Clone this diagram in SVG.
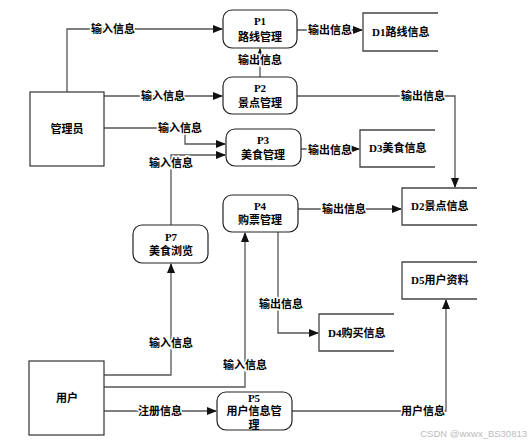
<svg xmlns="http://www.w3.org/2000/svg" width="531" height="444" viewBox="0 0 531 444">
<style>
text{font-family:"Liberation Serif","Noto Sans CJK SC",serif;font-size:11px;font-weight:bold;fill:#000;text-anchor:middle;dominant-baseline:central}
.proc{fill:#fff;stroke:#222;stroke-width:1.2}
.ent{fill:#fff;stroke:#333;stroke-width:1.2}
.store{fill:none;stroke:#444;stroke-width:1.3}
.c{fill:none;stroke:#555;stroke-width:1.3}
.lbl{stroke:#fff;stroke-width:3;paint-order:stroke}
.ds{text-anchor:start}
.wm{font-family:"Liberation Sans",sans-serif;font-weight:normal;font-size:9.5px;fill:#bbb;text-anchor:end}
</style>
<defs>
<marker id="arr" markerWidth="10" markerHeight="8" refX="9" refY="4" orient="auto" markerUnits="userSpaceOnUse">
<path d="M0,0 L10,4 L0,8 Z" fill="#111"/>
</marker>
</defs>
<rect width="531" height="444" fill="#fff"/>
<g id="connectors">
<path class="c" d="M67,92 V29 H222" marker-end="url(#arr)"/>
<path class="c" d="M104,96 H222" marker-end="url(#arr)"/>
<path class="c" d="M104,128 H185 V144 H225" marker-end="url(#arr)"/>
<path class="c" d="M171,225 V155 H225" marker-end="url(#arr)"/>
<path class="c" d="M260,77 V49" marker-end="url(#arr)"/>
<path class="c" d="M297,30 H362" marker-end="url(#arr)"/>
<path class="c" d="M297,96 H455 V187" marker-end="url(#arr)"/>
<path class="c" d="M301,149 H359" marker-end="url(#arr)"/>
<path class="c" d="M298,209 H401" marker-end="url(#arr)"/>
<path class="c" d="M278,232 V333 H318" marker-end="url(#arr)"/>
<path class="c" d="M104,375 H171 V264" marker-end="url(#arr)"/>
<path class="c" d="M104,387 H245 V233" marker-end="url(#arr)"/>
<path class="c" d="M104,411 H216" marker-end="url(#arr)"/>
<path class="c" d="M292,411 H446 V300" marker-end="url(#arr)"/>
<text class="lbl" x="113" y="29">输入信息</text>
<text class="lbl" x="163" y="96">输入信息</text>
<text class="lbl" x="180" y="128">输入信息</text>
<text class="lbl" x="171" y="163">输入信息</text>
<text class="lbl" x="260" y="60">输出信息</text>
<text class="lbl" x="330" y="30">输出信息</text>
<text class="lbl" x="423" y="96">输出信息</text>
<text class="lbl" x="330" y="150">输出信息</text>
<text class="lbl" x="344" y="209">输出信息</text>
<text class="lbl" x="281" y="304">输出信息</text>
<text class="lbl" x="171" y="343">输入信息</text>
<text class="lbl" x="245" y="365">输入信息</text>
<text class="lbl" x="160" y="411">注册信息</text>
<text class="lbl" x="423" y="411">用户信息</text>
</g>
<g id="admin"><rect class="ent" x="30" y="92" width="74" height="74"/><text x="67" y="129">管理员</text></g>
<g id="user"><rect class="ent" x="29" y="361" width="75" height="74"/><text x="67" y="398">用户</text></g>
<g id="P1"><rect class="proc" x="223" y="10" width="74" height="38" rx="9"/><text x="260" y="21">P1</text><text x="260" y="37">路线管理</text></g>
<g id="P2"><rect class="proc" x="223" y="77" width="74" height="37" rx="9"/><text x="260" y="88">P2</text><text x="260" y="103">景点管理</text></g>
<g id="P3"><rect class="proc" x="226" y="129" width="75" height="37" rx="9"/><text x="263" y="140">P3</text><text x="263" y="155">美食管理</text></g>
<g id="P4"><rect class="proc" x="223" y="195" width="75" height="37" rx="9"/><text x="260" y="206">P4</text><text x="260" y="220">购票管理</text></g>
<g id="P5"><rect class="proc" x="217" y="392" width="75" height="38" rx="9"/><text x="254" y="398">P5</text><text x="254" y="411">用户信息管</text><text x="254" y="425">理</text></g>
<g id="P7"><rect class="proc" x="133" y="225" width="75" height="38" rx="9"/><text x="171" y="237">P7</text><text x="171" y="251">美食浏览</text></g>
<g id="D1"><path class="store" d="M438,13 H363 V51 H438"/><text class="ds" x="372" y="32">D1路线信息</text></g>
<g id="D2"><path class="store" d="M477,188 H402 V225 H477"/><text class="ds" x="411" y="206">D2景点信息</text></g>
<g id="D3"><path class="store" d="M435,130 H360 V167 H435"/><text class="ds" x="369" y="148">D3美食信息</text></g>
<g id="D4"><path class="store" d="M394,314 H319 V351 H394"/><text class="ds" x="328" y="333">D4购买信息</text></g>
<g id="D5"><path class="store" d="M477,262 H402 V299 H477"/><text class="ds" x="411" y="280">D5用户资料</text></g>
<text class="wm" x="527" y="433">CSDN @wxwx_BS30813</text>
</svg>
